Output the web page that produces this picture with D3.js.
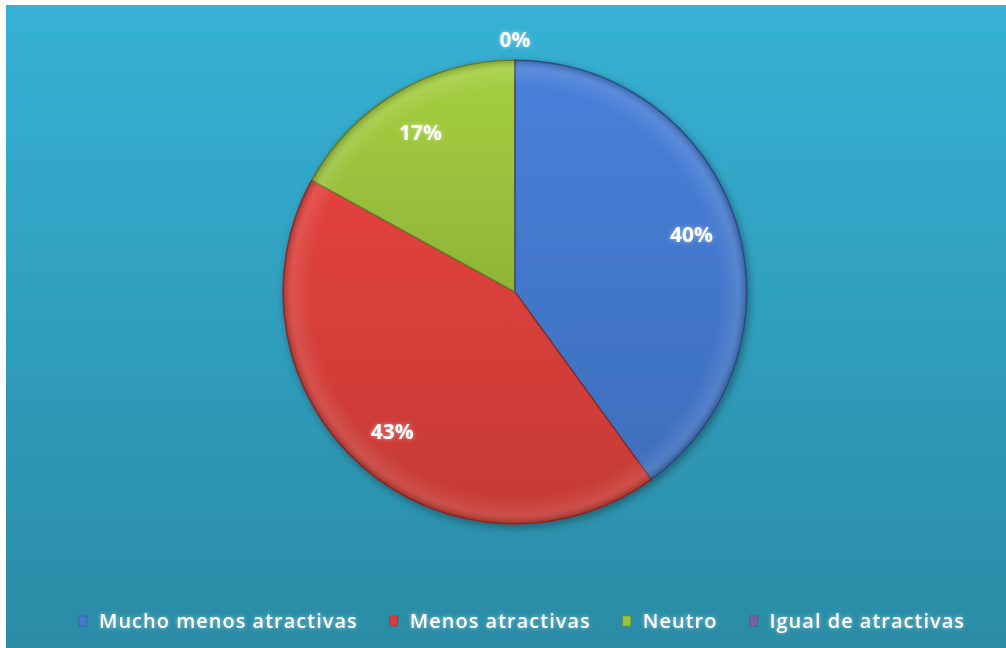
<!DOCTYPE html>
<html>
<head>
<meta charset="utf-8">
<script src="https://cdn.jsdelivr.net/npm/d3@7"></script>
<style>
  html, body { margin: 0; padding: 0; background: #ffffff; }
  svg { display: block; }
</style>
</head>
<body>
<svg id="chart" width="1006" height="648"></svg>
<script>
// Survey answers: share of respondents per category
const categories = ["Mucho menos atractivas", "Menos atractivas", "Neutro", "Igual de atractivas"];
const values = [40, 43, 17, 0];
const valueLabels = ["40%", "43%", "17%", "0%"];
const sliceColors = ["#4479cf", "#d73f3a", "#9cc53d", "#7d5ea8"];

const W = 1006, H = 648;
const svg = d3.select("#chart");
const defs = svg.append("defs");

// Background panel gradient
const bg = defs.append("linearGradient").attr("id", "bgGrad")
  .attr("x1", 0).attr("y1", 0).attr("x2", 0).attr("y2", 1);
bg.append("stop").attr("offset", "0%").attr("stop-color", "#36b1d5");
bg.append("stop").attr("offset", "100%").attr("stop-color", "#2a8ba5");

svg.append("rect").attr("x", 6).attr("y", 5).attr("width", W - 6).attr("height", H - 5)
  .attr("fill", "url(#bgGrad)");

// Glow filter for the white labels
const glow = defs.append("filter").attr("id", "glow")
  .attr("x", "-30%").attr("y", "-50%").attr("width", "160%").attr("height", "200%");
glow.append("feGaussianBlur").attr("in", "SourceAlpha").attr("stdDeviation", 2.2).attr("result", "b");
glow.append("feFlood").attr("flood-color", "#ffffff").attr("flood-opacity", 0.5).attr("result", "c");
glow.append("feComposite").attr("in", "c").attr("in2", "b").attr("operator", "in").attr("result", "g");
const gm = glow.append("feMerge");
gm.append("feMergeNode").attr("in", "g");
gm.append("feMergeNode").attr("in", "SourceGraphic");

// Soft shadow under the pie
const shadow = defs.append("filter").attr("id", "pieShadow")
  .attr("x", "-10%").attr("y", "-10%").attr("width", "120%").attr("height", "120%");
shadow.append("feGaussianBlur").attr("in", "SourceAlpha").attr("stdDeviation", 4).attr("result", "s");
shadow.append("feOffset").attr("dx", 2).attr("dy", 3).attr("result", "o");
shadow.append("feComponentTransfer").append("feFuncA").attr("type", "linear").attr("slope", 0.35);
const sm = shadow.append("feMerge");
sm.append("feMergeNode");
sm.append("feMergeNode").attr("in", "SourceGraphic");

// Per-slice shading gradients
sliceColors.forEach((c, i) => {
  const g = defs.append("linearGradient").attr("id", "slice" + i)
    .attr("x1", 0).attr("y1", 0).attr("x2", 0).attr("y2", 1);
  g.append("stop").attr("offset", "0%").attr("stop-color", d3.color(c).brighter(0.15));
  g.append("stop").attr("offset", "100%").attr("stop-color", d3.color(c).darker(0.25));
});

// Rim highlight (bevel)
const rim = defs.append("radialGradient").attr("id", "rimGrad")
  .attr("cx", "50%").attr("cy", "50%").attr("r", "50%");
rim.append("stop").attr("offset", "88%").attr("stop-color", "#ffffff").attr("stop-opacity", 0);
rim.append("stop").attr("offset", "96%").attr("stop-color", "#ffffff").attr("stop-opacity", 0.10);
rim.append("stop").attr("offset", "100%").attr("stop-color", "#000000").attr("stop-opacity", 0.22);

const cx = 515, cy = 292, R = 232;

const pie = d3.pie().sort(null).value(d => d)(values);
const arc = d3.arc().innerRadius(0).outerRadius(R);
const labelArc = d3.arc().innerRadius(R * 0.8).outerRadius(R * 0.8);

const g = svg.append("g").attr("transform", `translate(${cx},${cy})`);
const pieG = g.append("g").attr("filter", "url(#pieShadow)");

pieG.selectAll("path.slice").data(pie).join("path")
  .attr("class", "slice")
  .attr("d", arc)
  .attr("fill", (d, i) => `url(#slice${i})`)
  .attr("stroke", (d, i) => d3.color(sliceColors[i]).darker(1.3))
  .attr("stroke-opacity", 0.75)
  .attr("stroke-width", 1.6)
  .attr("stroke-linejoin", "round");

g.append("circle").attr("r", R).attr("fill", "url(#rimGrad)").attr("pointer-events", "none");

// Value labels
g.selectAll("text.val").data(pie).join("text")
  .attr("class", "val")
  .attr("transform", d => {
    if (d.data === 0) {
      const a = d.startAngle;
      const rr = R + 20;
      return `translate(${Math.sin(a) * rr},${-Math.cos(a) * rr})`;
    }
    const [x, y] = labelArc.centroid(d);
    return `translate(${x},${y})`;
  })
  .attr("text-anchor", "middle")
  .attr("dy", "0.35em")
  .attr("font-family", "'Open Sans', 'DejaVu Sans', sans-serif")
  .attr("font-weight", "bold")
  .attr("font-size", 21)
  .attr("fill", "#ffffff")
  .attr("filter", "url(#glow)")
  .text((d, i) => valueLabels[i]);

// Legend
const legend = svg.append("g").attr("transform", "translate(0,621)");
const items = legend.selectAll("g.item").data(categories).join("g").attr("class", "item");
const markerGap = 20;
items.append("rect")
  .attr("x", 0).attr("y", -5).attr("width", 8).attr("height", 10)
  .attr("fill", (d, i) => sliceColors[i])
  .attr("stroke", (d, i) => d3.color(sliceColors[i]).darker(0.8))
  .attr("stroke-width", 0.6);
items.append("text")
  .attr("x", markerGap).attr("dy", "0.35em")
  .attr("font-family", "'Open Sans', 'DejaVu Sans', sans-serif")
  .attr("font-weight", 600)
  .attr("font-size", 20)
  .attr("letter-spacing", 1)
  .attr("fill", "#ffffff")
  .attr("filter", "url(#glow)")
  .text(d => d);

// Lay out legend entries in one centered row
const gap = 32;
let widths = [];
items.each(function () {
  widths.push(markerGap + d3.select(this).select("text").node().getComputedTextLength());
});
const total = d3.sum(widths) + gap * (widths.length - 1);
let x0 = 522 - total / 2;
items.attr("transform", (d, i) => {
  const t = `translate(${x0},0)`;
  x0 += widths[i] + gap;
  return t;
});
</script>
</body>
</html>
